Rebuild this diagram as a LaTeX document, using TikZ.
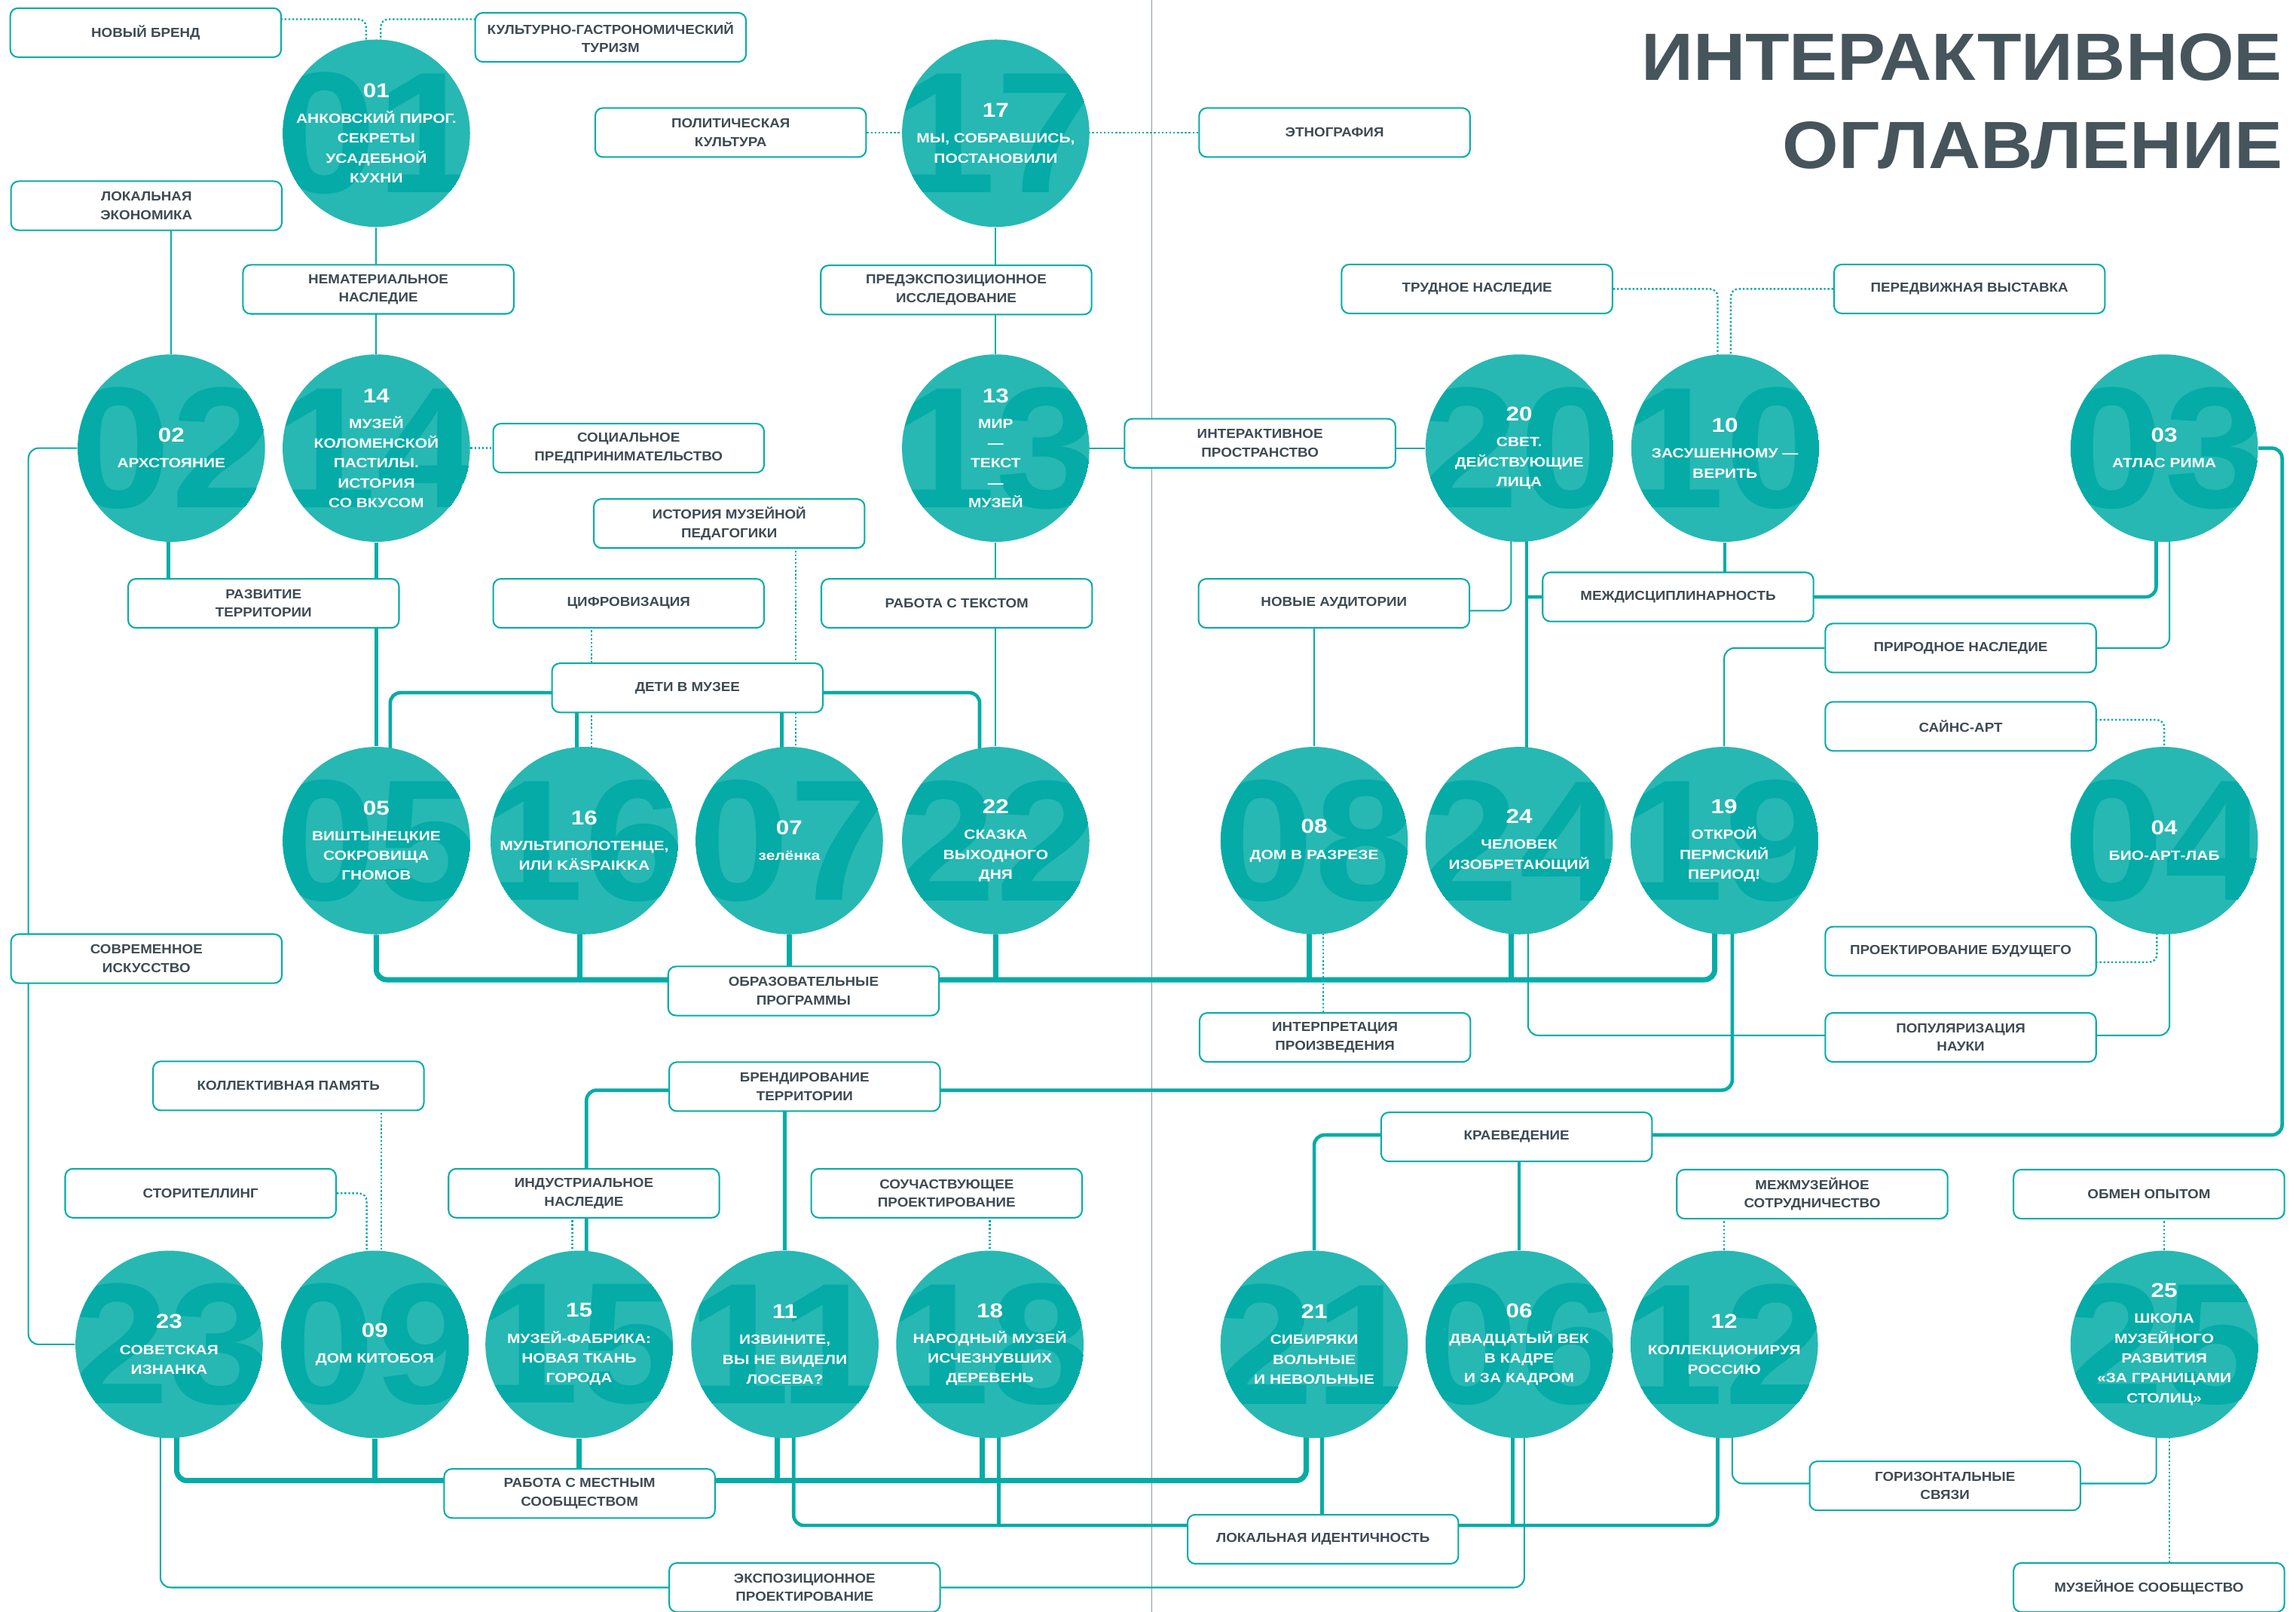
\documentclass[tikz,border=0pt]{standalone}
\usepackage{fontspec}
\setmainfont{Liberation Sans}[FakeStretch=1.08]
\newfontfamily\widefont{Liberation Sans}[FakeStretch=1.18]
\usepackage{tikz}
\usetikzlibrary{calc,backgrounds}

\definecolor{lineteal}{HTML}{05ACA7}
\definecolor{discteal}{HTML}{27B8B3}
\definecolor{digitteal}{HTML}{04ABA7}
\definecolor{labelgray}{HTML}{3E4B53}
\definecolor{titlegray}{HTML}{46545C}
\definecolor{foldgray}{HTML}{8E989D}

\newcommand\nr[1]{{\fontsize{7.8}{7.7}\selectfont #1}\\[2.3pt]}

\begin{document}
\begin{tikzpicture}[
    x=0.02cm, y=-0.02cm,
    topic/.style={rectangle, draw=lineteal, line width=0.6pt, fill=white, rounded corners=3pt, minimum width=3.7cm, minimum height=0.67cm, inner sep=0pt, text=labelgray, align=center, font=\fontsize{5.1}{7.2}\selectfont\bfseries},
    museum/.style={circle, minimum size=2.56cm, inner sep=0pt, text=white, align=center, font=\widefont\fontsize{5.2}{7.7}\selectfont\bfseries},
    bignum/.style={inner sep=0pt, text=digitteal, font=\fontsize{67}{67}\selectfont\bfseries},
    title/.style={anchor=east, inner sep=0pt, text=titlegray, font=\fontsize{26}{30}\selectfont\bfseries},
    thinlink/.style={draw=lineteal, line width=0.6pt, rounded corners=4pt},
    midlink/.style={draw=lineteal, line width=1.35pt, rounded corners=4pt},
    boldlink/.style={draw=lineteal, line width=2.05pt, rounded corners=4pt},
    dotlink/.style={draw=lineteal, line width=0.7pt, dash pattern=on 0.7pt off 0.8pt, rounded corners=3pt}
]
    \useasboundingbox (0,0) rectangle (1568,1100.7);

    % Title
    \node[title] (title1) at (1559,39) {ИНТЕРАКТИВНОЕ};
    \node[title] (title2) at (1559,99.5) {ОГЛАВЛЕНИЕ};

    % Topics, top part
    \node[topic] (bNewBrand) at (99.5,22.3) {НОВЫЙ БРЕНД};
    \node[topic] (bGastro) at (417,25.5) {КУЛЬТУРНО-ГАСТРОНОМИЧЕСКИЙ\\ТУРИЗМ};
    \node[topic] (bLocEcon) at (100,140.5) {ЛОКАЛЬНАЯ\\ЭКОНОМИКА};
    \node[topic] (bNemat) at (258.4,197.6) {НЕМАТЕРИАЛЬНОЕ\\НАСЛЕДИЕ};
    \node[topic] (bPolit) at (499,90.5) {ПОЛИТИЧЕСКАЯ\\КУЛЬТУРА};
    \node[topic] (bEthno) at (911.4,90.5) {ЭТНОГРАФИЯ};
    \node[topic] (bPreexp) at (653,198) {ПРЕДЭКСПОЗИЦИОННОЕ\\ИССЛЕДОВАНИЕ};
    \node[topic] (bTrudnoe) at (1008.7,197.3) {ТРУДНОЕ НАСЛЕДИЕ};
    \node[topic] (bPeredv) at (1345,197.3) {ПЕРЕДВИЖНАЯ ВЫСТАВКА};
    \node[topic] (bSocial) at (429.3,306) {СОЦИАЛЬНОЕ\\ПРЕДПРИНИМАТЕЛЬСТВО};
    \node[topic] (bInterSpace) at (860.5,302.7) {ИНТЕРАКТИВНОЕ\\ПРОСТРАНСТВО};
    \node[topic] (bMuzPed) at (498,357.5) {ИСТОРИЯ МУЗЕЙНОЙ\\ПЕДАГОГИКИ};

    % Topics, middle part
    \node[topic] (bRazvit) at (180,412) {РАЗВИТИЕ\\ТЕРРИТОРИИ};
    \node[topic] (bDigit) at (429.3,412) {ЦИФРОВИЗАЦИЯ};
    \node[topic] (bRabText) at (653.4,412) {РАБОТА С ТЕКСТОМ};
    \node[topic] (bNewAud) at (911,412) {НОВЫЕ АУДИТОРИИ};
    \node[topic] (bInterdisc) at (1146,407.6) {МЕЖДИСЦИПЛИНАРНОСТЬ};
    \node[topic] (bNature) at (1339,442.5) {ПРИРОДНОЕ НАСЛЕДИЕ};
    \node[topic] (bKids) at (469.5,469.7) {ДЕТИ В МУЗЕЕ};
    \node[topic] (bSciArt) at (1339,496) {САЙНС-АРТ};
    \node[topic] (bModArt) at (100,654.6) {СОВРЕМЕННОЕ\\ИСКУССТВО};
    \node[topic] (bFutDes) at (1339,649.5) {ПРОЕКТИРОВАНИЕ БУДУЩЕГО};
    \node[topic] (bEduProg) at (548.8,676.7) {ОБРАЗОВАТЕЛЬНЫЕ\\ПРОГРАММЫ};
    \node[topic] (bInterp) at (911.7,708.4) {ИНТЕРПРЕТАЦИЯ\\ПРОИЗВЕДЕНИЯ};
    \node[topic] (bPopSci) at (1339,708.4) {ПОПУЛЯРИЗАЦИЯ\\НАУКИ};

    % Topics, bottom part
    \node[topic] (bCollMem) at (197,741.5) {КОЛЛЕКТИВНАЯ ПАМЯТЬ};
    \node[topic] (bBrand) at (549.5,742) {БРЕНДИРОВАНИЕ\\ТЕРРИТОРИИ};
    \node[topic] (bKraeved) at (1035.7,776.3) {КРАЕВЕДЕНИЕ};
    \node[topic] (bStory) at (137,814.8) {СТОРИТЕЛЛИНГ};
    \node[topic] (bIndust) at (398.8,814.8) {ИНДУСТРИАЛЬНОЕ\\НАСЛЕДИЕ};
    \node[topic] (bCoDesign) at (646.5,814.8) {СОУЧАСТВУЮЩЕЕ\\ПРОЕКТИРОВАНИЕ};
    \node[topic] (bInterMuz) at (1237.6,815.4) {МЕЖМУЗЕЙНОЕ\\СОТРУДНИЧЕСТВО};
    \node[topic] (bExchange) at (1467.6,815.4) {ОБМЕН ОПЫТОМ};
    \node[topic] (bHoriz) at (1328.3,1014.6) {ГОРИЗОНТАЛЬНЫЕ\\СВЯЗИ};
    \node[topic] (bLocalCom) at (395.8,1019.8) {РАБОТА С МЕСТНЫМ\\СООБЩЕСТВОМ};
    \node[topic] (bLocIdent) at (903.5,1051) {ЛОКАЛЬНАЯ ИДЕНТИЧНОСТЬ};
    \node[topic] (bExpoDes) at (549.5,1084) {ЭКСПОЗИЦИОННОЕ\\ПРОЕКТИРОВАНИЕ};
    \node[topic] (bMuzCom) at (1467.6,1084) {МУЗЕЙНОЕ СООБЩЕСТВО};

    % Museums, rows 1 and 2
    \node[museum] (c01) at (257,91) {\nr{01}АНКОВСКИЙ ПИРОГ.\\СЕКРЕТЫ\\УСАДЕБНОЙ\\КУХНИ};
    \node[museum] (c17) at (680,91) {\nr{17}МЫ, СОБРАВШИСЬ,\\ПОСТАНОВИЛИ};
    \node[museum] (c02) at (117,306) {\nr{02}АРХСТОЯНИЕ};
    \node[museum] (c14) at (257,306) {\nr{14}МУЗЕЙ\\КОЛОМЕНСКОЙ\\ПАСТИЛЫ.\\ИСТОРИЯ\\СО ВКУСОМ};
    \node[museum] (c13) at (680,306) {\nr{13}МИР\\—\\ТЕКСТ\\—\\МУЗЕЙ};
    \node[museum] (c20) at (1037.5,306) {\nr{20}СВЕТ.\\ДЕЙСТВУЮЩИЕ\\ЛИЦА};
    \node[museum] (c10) at (1178,306) {\nr{10}ЗАСУШЕННОМУ —\\ВЕРИТЬ};
    \node[museum] (c03) at (1478,306) {\nr{03}АТЛАС РИМА};

    % Museums, row 3
    \node[museum] (c05) at (257,574) {\nr{05}ВИШТЫНЕЦКИЕ\\СОКРОВИЩА\\ГНОМОВ};
    \node[museum] (c16) at (399,574) {\nr{16}МУЛЬТИПОЛОТЕНЦЕ,\\ИЛИ KÄSPAIKKA};
    \node[museum] (c07) at (539,574) {\nr{07}зелёнка};
    \node[museum] (c22) at (680,574) {\nr{22}СКАЗКА\\ВЫХОДНОГО\\ДНЯ};
    \node[museum] (c08) at (897.5,574) {\nr{08}ДОМ В РАЗРЕЗЕ};
    \node[museum] (c24) at (1037.5,574) {\nr{24}ЧЕЛОВЕК\\ИЗОБРЕТАЮЩИЙ};
    \node[museum] (c19) at (1177.5,574) {\nr{19}ОТКРОЙ\\ПЕРМСКИЙ\\ПЕРИОД!};
    \node[museum] (c04) at (1478,574) {\nr{04}БИО-АРТ-ЛАБ};

    % Museums, row 4
    \node[museum] (c23) at (115.5,918) {\nr{23}СОВЕТСКАЯ\\ИЗНАНКА};
    \node[museum] (c09) at (256,918) {\nr{09}ДОМ КИТОБОЯ};
    \node[museum] (c15) at (395.5,918) {\nr{15}МУЗЕЙ-ФАБРИКА:\\НОВАЯ ТКАНЬ\\ГОРОДА};
    \node[museum] (c11) at (536,918) {\nr{11}ИЗВИНИТЕ,\\ВЫ НЕ ВИДЕЛИ\\ЛОСЕВА?};
    \node[museum] (c18) at (676,918) {\nr{18}НАРОДНЫЙ МУЗЕЙ\\ИСЧЕЗНУВШИХ\\ДЕРЕВЕНЬ};
    \node[museum] (c21) at (897.5,918) {\nr{21}СИБИРЯКИ\\ВОЛЬНЫЕ\\И НЕВОЛЬНЫЕ};
    \node[museum] (c06) at (1037.5,918) {\nr{06}ДВАДЦАТЫЙ ВЕК\\В КАДРЕ\\И ЗА КАДРОМ};
    \node[museum] (c12) at (1177.5,918) {\nr{12}КОЛЛЕКЦИОНИРУЯ\\РОССИЮ};
    \node[museum] (c25) at (1478,918) {\nr{25}ШКОЛА\\МУЗЕЙНОГО\\РАЗВИТИЯ\\«ЗА ГРАНИЦАМИ\\СТОЛИЦ»};

    \begin{scope}[on background layer]
    \fill[white] (0,0) rectangle (1568,1100.7);
    \draw[foldgray, line width=0.5pt] (786.5,0) -- (786.5,1100.7);

    % Top links
    \draw[dotlink] ($(bNewBrand)+(0,-9.2)$) -| ($(c01)+(-7,0)$);
    \draw[dotlink] ($(bGastro)+(0,-12.4)$) -| ($(c01)+(3,0)$);
    \draw[thinlink] (c01) -- (c14);
    \draw[thinlink] (c02) -- (c02 |- bLocEcon);
    \draw[dotlink] (bPolit) -- (bPolit -| c17);
    \draw[dotlink] (bEthno -| c17) -- (bEthno);
    \draw[thinlink] (c17) -- (c13);
    \draw[thinlink] (c13) -- (c22);
    \draw[thinlink] (c13) -- (c20);
    \draw[dotlink] (c14) -- (bSocial);
    \draw[dotlink] (bTrudnoe) -| ($(c10)+(-5,0)$);
    \draw[dotlink] (bPeredv) -| ($(c10)+(4,0)$);

    % Razvitie territorii, deti v muzee
    \draw[midlink] ($(c02)+(-2,0)$) -- ($(c02 |- bRazvit)+(-2,0)$);
    \draw[midlink] (c14) -- (c05);
    \draw[midlink] ($(c05)+(9.5,0)$) |- ($(bKids)+(0,3.3)$) -| ($(c22)+(-11,0)$);
    \draw[midlink] ($(c16)+(-5,0)$) -- ($(c16 |- bKids)+(-5,0)$);
    \draw[midlink] ($(c07)+(-5,0)$) -- ($(c07 |- bKids)+(-5,0)$);
    \draw[dotlink] ($(c16 |- bDigit)+(5,0)$) -- ($(c16)+(5,0)$);
    \draw[dotlink] ($(c07 |- bMuzPed)+(4.5,0)$) -- ($(c07)+(4.5,0)$);

    % Obrazovatelnye programmy
    \draw[boldlink] (c05) |- ($(bEduProg)+(0,-7.7)$) -| ($(c19)+(-6.5,0)$);
    \draw[boldlink] ($(c16)+(-3,0)$) -- ($(c16 |- bEduProg)+(-3,-7.7)$);
    \draw[boldlink] (c07) -- (c07 |- bEduProg);
    \draw[boldlink] (c22) -- ($(c22 |- bEduProg)+(0,-7.7)$);
    \draw[boldlink] ($(c08)+(-3.5,0)$) -- ($(c08 |- bEduProg)+(-3.5,-7.7)$);
    \draw[boldlink] ($(c24)+(-5.5,0)$) -- ($(c24 |- bEduProg)+(-5.5,-7.7)$);

    % Mezhdistsiplinarnost, novye auditorii, prirodnoe nasledie
    \draw[midlink] ($(c03)+(-5.5,0)$) |- ($(c20 |- bInterdisc)+(5,0)$);
    \draw[midlink] ($(c20)+(5,0)$) -- ($(c24)+(5,0)$);
    \draw[midlink] (c10) -- (c10 |- bInterdisc);
    \draw[thinlink] ($(c20)+(-5.5,0)$) |- ($(bNewAud)+(0,5)$);
    \draw[thinlink] (bNewAud -| c08) -- (c08);
    \draw[thinlink] (c19) |- (bNature) -| ($(c03)+(3.6,0)$);

    % Bio-art-lab
    \draw[dotlink] ($(bSciArt)+(0,-4.5)$) -| (c04);
    \draw[dotlink] ($(bFutDes)+(0,7.5)$) -| ($(c04)+(-5,0)$);
    \draw[thinlink] ($(c24)+(6,0)$) |- ($(bPopSci)+(0,-1.4)$) -| ($(c04)+(3.6,0)$);
    \draw[dotlink] ($(c08)+(6,0)$) -- ($(c08 |- bInterp)+(6,0)$);

    % Brendirovanie territorii
    \draw[midlink] ($(c19)+(5.5,0)$) |- ($(bBrand)+(0,2.4)$) -| ($(c15)+(5,0)$);
    \draw[midlink] (bBrand -| c11) -- (c11);
    \draw[dotlink] ($(c15 |- bIndust)+(-4.7,0)$) -- ($(c15)+(-4.7,0)$);
    \draw[dotlink] (bCoDesign -| c18) -- (c18);
    \draw[dotlink] ($(c09 |- bCollMem)+(4.5,0)$) -- ($(c09)+(4.5,0)$);
    \draw[dotlink] (bStory) -| ($(c09)+(-5.6,0)$);

    % Sovremennoe iskusstvo
    \draw[thinlink] (c02) -| ($(bModArt)+(-80.6,0)$) |- (c23);

    % Rabota s mestnym soobshchestvom
    \draw[boldlink] ($(c23)+(5.2,0)$) |- ($(bLocalCom)+(0,-8.8)$) -| ($(c21)+(-5.5,0)$);
    \draw[boldlink] (c09) -- ($(c09 |- bLocalCom)+(0,-8.8)$);
    \draw[boldlink] (c15) -- (c15 |- bLocalCom);
    \draw[boldlink] ($(c11)+(-5.4,0)$) -- ($(c11 |- bLocalCom)+(-5.4,-8.8)$);
    \draw[boldlink] ($(c18)+(-5.4,0)$) -- ($(c18 |- bLocalCom)+(-5.4,-8.8)$);

    % Lokalnaya identichnost
    \draw[midlink] ($(c11)+(6,0)$) |- ($(bLocIdent)+(0,-9.4)$) -| ($(c12)+(-4.5,0)$);
    \draw[midlink] ($(c18)+(6,0)$) -- ($(c18 |- bLocIdent)+(6,-9.4)$);
    \draw[midlink] ($(c21)+(5.5,0)$) -- ($(c21 |- bLocIdent)+(5.5,0)$);
    \draw[midlink] ($(c06)+(-4.5,0)$) -- ($(c06 |- bLocIdent)+(-4.5,-9.4)$);

    % Ekspozitsionnoe proektirovanie, kraevedenie
    \draw[thinlink] ($(c23)+(-6,0)$) |- (bExpoDes) -| ($(c06)+(3.5,0)$);
    \draw[midlink] (c21) |- ($(bKraeved)+(0,-1.3)$) -| ($(c03)+(80.5,0)$) -- (c03);
    \draw[midlink] (bKraeved -| c06) -- (c06);

    % Bottom right
    \draw[dotlink] (bInterMuz -| c12) -- (c12);
    \draw[dotlink] (bExchange -| c25) -- (c25);
    \draw[thinlink] ($(c12)+(5.5,0)$) |- ($(bHoriz)+(0,-1.6)$) -| ($(c25)+(-5.4,0)$);
    \draw[dotlink] ($(c25)+(3.6,0)$) -- ($(c25 |- bMuzCom)+(3.6,0)$);

    % Discs with the big numbers
    \foreach \id in {01,02,03,04,05,06,07,08,09,10,11,12,13,14,15,16,17,18,19,20,21,22,23,24,25} {
        \fill[discteal] (c\id) circle (1.28cm);
        \begin{scope}
            \clip (c\id) circle (1.28cm);
            \node[bignum] (big\id) at (c\id) {\id};
        \end{scope}
    }
    \end{scope}

\end{tikzpicture}
\end{document}
